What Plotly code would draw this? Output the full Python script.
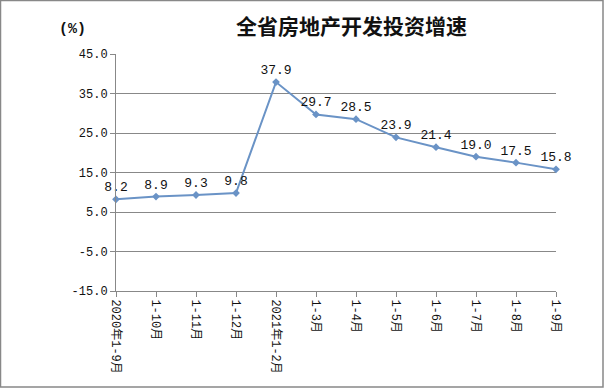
import plotly.graph_objects as go

categories = ["2020年1-9月", "1-10月", "1-11月", "1-12月", "2021年1-2月", "1-3月",
              "1-4月", "1-5月", "1-6月", "1-7月", "1-8月", "1-9月"]
growth = [8.2, 8.9, 9.3, 9.8, 37.9, 29.7, 28.5, 23.9, 21.4, 19.0, 17.5, 15.8]
y_ticks = [-15, -5, 5, 15, 25, 35, 45]
y_tick_text = ["-15.0", "-5.0", "5.0", "15.0", "25.0", "35.0", "45.0"]

W, H = 608, 388
L, R, T, B = 116, 52, 54, 97
pw, ph = W - L - R, H - T - B

mono = "Liberation Mono, Noto Sans CJK SC, monospace"
cjk = "Noto Sans CJK SC, sans-serif"
x_idx = list(range(len(categories)))

fig = go.Figure(go.Scatter(
    x=x_idx, y=growth,
    mode="lines+markers+text",
    line=dict(color="#6A93C6", width=2),
    marker=dict(symbol="diamond", size=6, color="#6A93C6"),
    text=[f"{v:.1f}" for v in growth],
    textposition="top center",
    textfont=dict(size=13, color="#111111", family=mono),
    cliponaxis=False,
))

def px_x(p):
    return (p - L) / pw

def px_y(p):
    return (H - B - p) / ph

fig.update_layout(
    width=W, height=H,
    margin=dict(l=L, r=R, t=T, b=B, pad=0),
    paper_bgcolor="white", plot_bgcolor="white",
    showlegend=False,
    font=dict(family=mono, color="#111111"),
    xaxis=dict(
        range=[0, len(categories) - 1],
        tickvals=x_idx, ticktext=categories,
        tickangle=90,
        showgrid=False, zeroline=False,
        showline=True, linecolor="#888888", linewidth=1,
        ticks="outside", ticklen=5, tickcolor="#888888",
        tickfont=dict(size=12, color="#111111", family=mono),
        automargin=False,
    ),
    yaxis=dict(
        range=[-15, 45],
        tickvals=y_ticks, ticktext=y_tick_text,
        showgrid=True, gridcolor="#888888", gridwidth=1,
        zeroline=False,
        showline=True, linecolor="#888888", linewidth=1,
        ticks="outside", ticklen=5, tickcolor="#888888",
        tickfont=dict(size=12, color="#111111", family=mono),
        automargin=False,
    ),
    annotations=[
        dict(text="全省房地产开发投资增速", xref="paper", yref="paper",
             x=px_x(351), y=px_y(25), xanchor="center", yanchor="middle",
             showarrow=False,
             font=dict(size=21, color="#111111", family=cjk, weight=600)),
        dict(text="(%)", xref="paper", yref="paper",
             x=px_x(72), y=px_y(30), xanchor="center", yanchor="middle",
             showarrow=False,
             font=dict(size=15, color="#111111", family=mono, weight="bold")),
    ],
    shapes=[
        dict(type="rect", xref="paper", yref="paper",
             x0=px_x(0.5), x1=px_x(603), y0=px_y(0.5), y1=px_y(387),
             line=dict(color="#888888", width=1.5), fillcolor="rgba(0,0,0,0)", layer="below"),
    ],
)

fig.write_html("out.html", config={"displayModeBar": False},
               post_script="document.body.style.margin='0';")
